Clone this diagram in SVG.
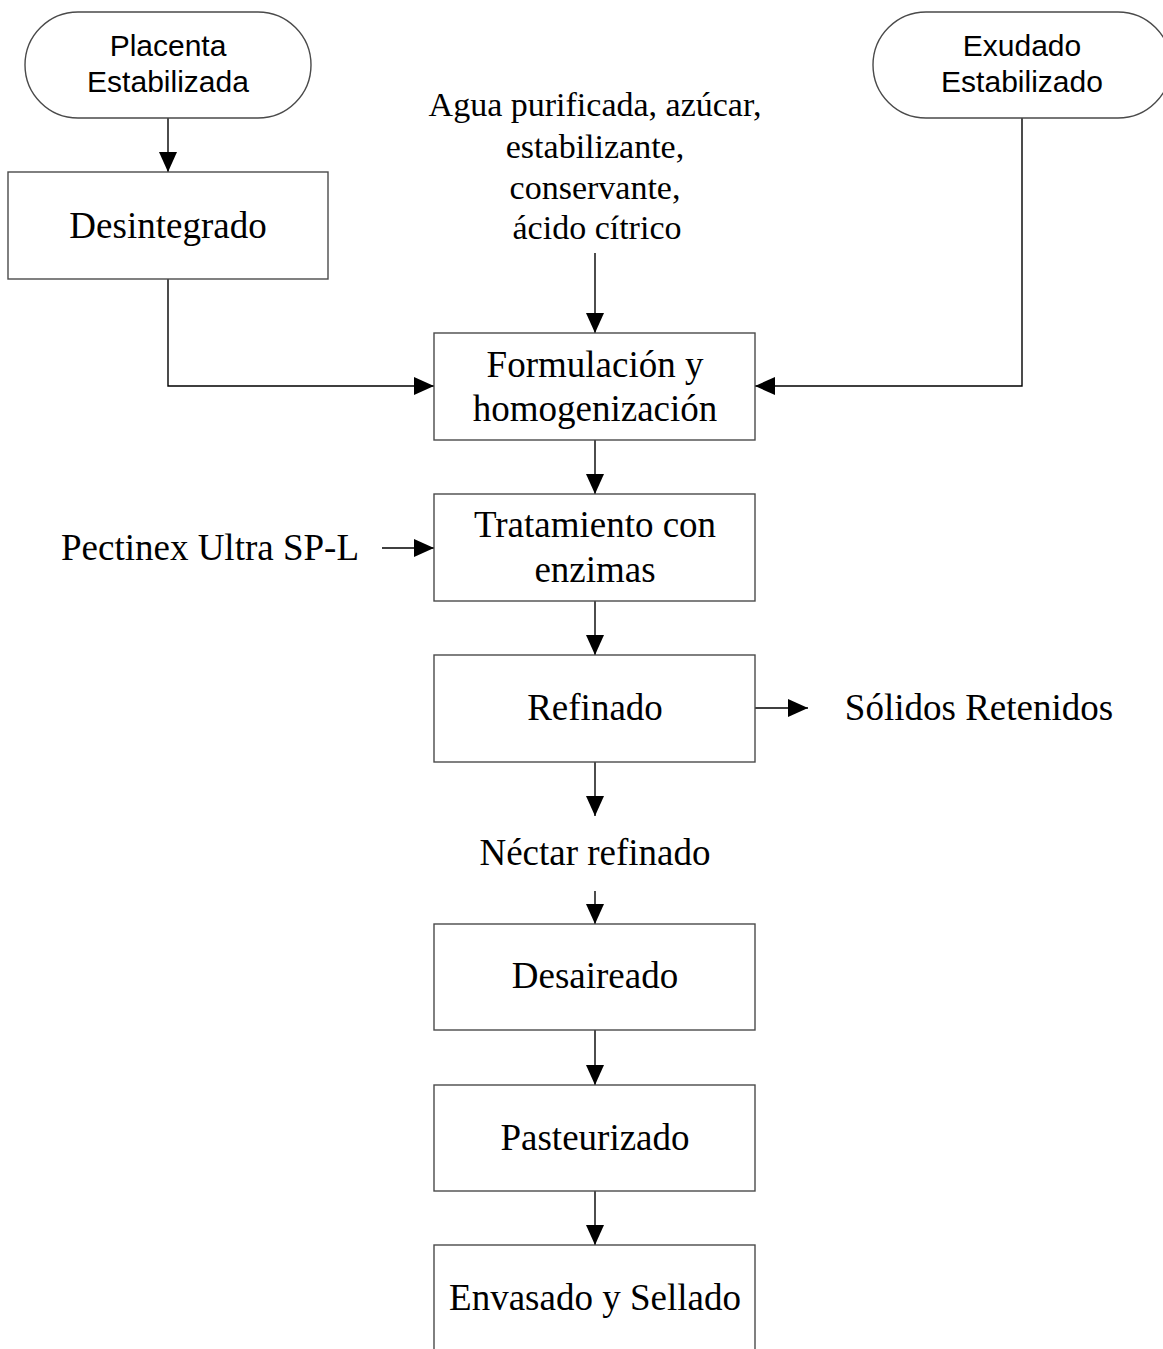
<svg xmlns="http://www.w3.org/2000/svg" width="1163" height="1349" viewBox="0 0 1163 1349">
  <style>
    .box { fill: #ffffff; stroke: #4a4a4a; stroke-width: 1.4; }
    .term { fill: #ffffff; stroke: #4a4a4a; stroke-width: 1.4; }
    .lbl { font-family: "Liberation Serif", "Times New Roman", serif; font-size: 37px; fill: #000; text-anchor: middle; }
    .note { font-family: "Liberation Serif", "Times New Roman", serif; font-size: 34px; fill: #000; text-anchor: middle; }
    .tlbl { font-family: "Liberation Sans", Arial, sans-serif; font-size: 30px; fill: #000; text-anchor: middle; }
    .conn { fill: none; stroke: #000; stroke-width: 1.4; marker-end: url(#arrow); }
  </style>
  <defs>
    <marker id="arrow" markerUnits="userSpaceOnUse" markerWidth="21" markerHeight="18" refX="20" refY="9" orient="auto">
      <path d="M0,0 L20,9 L0,18 z" fill="#000"/>
    </marker>
  </defs>
  <rect width="1163" height="1349" fill="#ffffff"/>

  <!-- connectors -->
  <g id="connectors">
    <path class="conn" d="M168,118 V172"/>
    <path class="conn" d="M168,279 V386 H434"/>
    <path class="conn" d="M1022,118 V386 H755"/>
    <path class="conn" d="M595,253 V333"/>
    <path class="conn" d="M595,440 V494"/>
    <path class="conn" d="M382,548 H434"/>
    <path class="conn" d="M595,601 V655"/>
    <path class="conn" d="M755,708 H808"/>
    <path class="conn" d="M595,762 V816"/>
    <path class="conn" d="M595,891 V924"/>
    <path class="conn" d="M595,1030 V1085"/>
    <path class="conn" d="M595,1191 V1245"/>
  </g>

  <!-- start terminals -->
  <g id="placenta">
    <rect class="term" x="25" y="12" width="286" height="106" rx="53" ry="53"/>
    <text class="tlbl" x="168" y="56">Placenta</text>
    <text class="tlbl" x="168" y="92">Estabilizada</text>
  </g>
  <g id="exudado">
    <rect class="term" x="873" y="12" width="298" height="106" rx="53" ry="53"/>
    <text class="tlbl" x="1022" y="56">Exudado</text>
    <text class="tlbl" x="1022" y="92">Estabilizado</text>
  </g>

  <!-- process steps -->
  <g id="desintegrado">
    <rect class="box" x="8" y="172" width="320" height="107"/>
    <text class="lbl" x="168" y="238">Desintegrado</text>
  </g>
  <g id="ingredientes">
    <text class="note" x="595" y="116">Agua purificada, azúcar,</text>
    <text class="note" x="595" y="158">estabilizante,</text>
    <text class="note" x="595" y="199">conservante,</text>
    <text class="note" x="597" y="239">ácido cítrico</text>
  </g>
  <g id="formulacion">
    <rect class="box" x="434" y="333" width="321" height="107"/>
    <text class="lbl" x="595" y="377">Formulación y</text>
    <text class="lbl" x="595" y="421">homogenización</text>
  </g>
  <g id="pectinex">
    <text class="lbl" x="210" y="560">Pectinex Ultra SP-L</text>
  </g>
  <g id="tratamiento">
    <rect class="box" x="434" y="494" width="321" height="107"/>
    <text class="lbl" x="595" y="537">Tratamiento con</text>
    <text class="lbl" x="595" y="582">enzimas</text>
  </g>
  <g id="refinado">
    <rect class="box" x="434" y="655" width="321" height="107"/>
    <text class="lbl" x="595" y="720">Refinado</text>
  </g>
  <g id="solidos">
    <text class="lbl" x="979" y="720">Sólidos Retenidos</text>
  </g>
  <g id="nectar">
    <text class="lbl" x="595" y="865">Néctar refinado</text>
  </g>
  <g id="desaireado">
    <rect class="box" x="434" y="924" width="321" height="106"/>
    <text class="lbl" x="595" y="988">Desaireado</text>
  </g>
  <g id="pasteurizado">
    <rect class="box" x="434" y="1085" width="321" height="106"/>
    <text class="lbl" x="595" y="1150">Pasteurizado</text>
  </g>
  <g id="envasado">
    <rect class="box" x="434" y="1245" width="321" height="120"/>
    <text class="lbl" x="595" y="1310">Envasado y Sellado</text>
  </g>
</svg>
